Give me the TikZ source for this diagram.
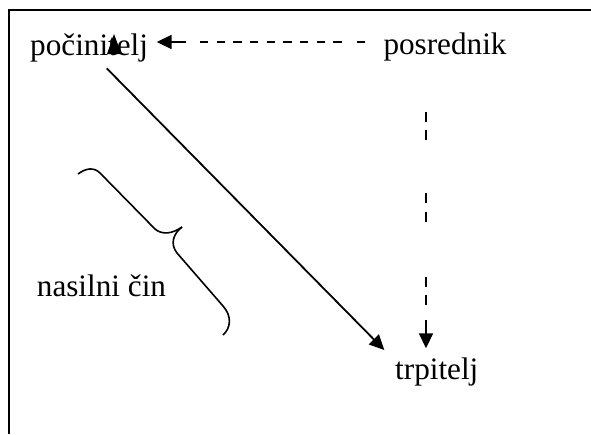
\documentclass[tikz,border=0pt]{standalone}
\usepackage{fontspec}
\setmainfont{Liberation Serif}
\usetikzlibrary{arrows.meta}
\begin{document}
\begin{tikzpicture}[x=1pt,y=-1pt,
  lbl/.style={anchor=base west,inner sep=0pt,font=\fontsize{31.2}{36}\selectfont},
  conn/.style={line width=1.8pt},
  tipd/.style={-{Triangle[length=15pt,width=14pt]}},
  dashh/.style={line width=1.4pt,dash pattern=on 8.33pt off 15pt on 8.33pt off 8.34pt on 8.33pt off 8.34pt on 8.33pt off 8.34pt on 8.33pt off 8.34pt on 8.33pt off 8.34pt on 8.33pt off 8.34pt on 8.33pt off 8.34pt on 8.33pt off 8.34pt on 8.33pt off 40pt},
  dashv/.style={line width=1.4pt,dash pattern=on 10pt off 8.3pt on 10pt off 53.3pt on 10pt off 8.3pt on 10pt off 55pt on 10pt off 8.3pt on 10pt off 40pt},
  framel/.style={line width=2.2pt},
  bracel/.style={line width=1.6pt}]
\useasboundingbox (0,0) rectangle (591,434);
% frame
\draw[framel] (8.7,434) -- (8.7,10.3) -- (591,10.3);
% labels
\node[lbl] (poc) at (30,55) {počinitelj};
\node[lbl] (pos) at (383.3,54) {posrednik};
\node[lbl] (nas) at (36.7,296.7) {nasilni čin};
\node[lbl] (trp) at (395,379) {trpitelj};
% horizontal dashed connector posrednik -> pocinitelj
\coordinate (h1) at (365,42);
\coordinate (h2) at (200,42);
\coordinate (h3) at (186,42);
\coordinate (h4) at (156.7,42);
\draw[dashh] (h1) -- (h2);
\draw[conn,tipd] (h3) -- (h4);
% vertical dashed connector posrednik -> trpitelj
\coordinate (v1) at (426,111.7);
\coordinate (v2) at (426,305.2);
\coordinate (v3) at (426,320);
\coordinate (v4) at (426,348.3);
\draw[dashv] (v1) -- (v2);
\draw[conn,tipd] (v3) -- (v4);
% diagonal connector pocinitelj -> trpitelj
\coordinate (d1) at (106.7,68.3);
\coordinate (d2) at (384.3,350);
\draw[conn,tipd] (d1) -- (d2);
\fill (114,34) -- (121.5,54) -- (107,54) -- cycle;
% brace
\draw[bracel] (78,174) .. controls (86,168) and (94,167) .. (100,173)
  -- (155,229) .. controls (162,235) and (172,234) .. (182,227);
\draw[bracel] (182,227) .. controls (173,234) and (170,244) .. (177,253)
  -- (223,306) .. controls (232,316) and (231,328) .. (223,335);
\end{tikzpicture}
\end{document}
